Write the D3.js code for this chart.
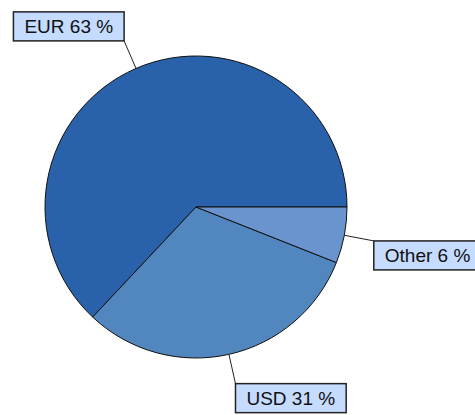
<!DOCTYPE html>
<html>
<head>
<meta charset="utf-8">
<script src="https://cdn.jsdelivr.net/npm/d3@7"></script>
<style>
  body { margin: 0; background: #fff; }
</style>
</head>
<body>
<div id="chart"></div>
<script>
// Data
const currencies = ["EUR", "USD", "Other"];
const shares = [63, 31, 6];
const colors = ["#2962ab", "#5286bf", "#6a94cd"];

const width = 475;
const height = 415;
const cx = 196, cy = 207;
const radius = 151;
const labelRadius = 181;

const svg = d3.select("#chart")
    .append("svg")
    .attr("width", width)
    .attr("height", height);

const data = currencies.map((c, i) => ({ name: c, value: shares[i], color: colors[i] }));

// Pie starts at 3 o'clock and runs counterclockwise
const pie = d3.pie()
    .sort(null)
    .value(d => d.value)
    .startAngle(Math.PI / 2)
    .endAngle(Math.PI / 2 - 2 * Math.PI);

const arc = d3.arc()
    .innerRadius(0)
    .outerRadius(radius);

const arcs = pie(data);

const g = svg.append("g")
    .attr("transform", `translate(${cx},${cy})`);

// Slices
g.selectAll("path.slice")
    .data(arcs)
    .join("path")
    .attr("class", "slice")
    .attr("d", arc)
    .attr("fill", d => d.data.color)
    .attr("stroke", "#111")
    .attr("stroke-width", 1)
    .attr("stroke-linejoin", "round");

// Point on circle for d3 angle a (clockwise from 12 o'clock)
function polar(a, r) {
    return [Math.sin(a) * r, -Math.cos(a) * r];
}

// Leader lines and label boxes
const labels = g.selectAll("g.label")
    .data(arcs)
    .join("g")
    .attr("class", "label");

labels.each(function(d) {
    const mid = (d.startAngle + d.endAngle) / 2;
    const p0 = polar(mid, radius);
    const p1 = polar(mid, labelRadius);
    const sel = d3.select(this);

    sel.append("line")
        .attr("x1", p0[0]).attr("y1", p0[1])
        .attr("x2", p1[0]).attr("y2", p1[1])
        .attr("stroke", "#222")
        .attr("stroke-width", 1);

    const text = sel.append("text")
        .style("font-family", "'Liberation Sans', Arial, sans-serif")
        .style("font-size", "19px")
        .attr("fill", "#111")
        .text(`${d.data.name} ${d.data.value} %`);

    const tw = text.node().getComputedTextLength();
    const padX = 11, boxH = 29;
    const boxW = tw + padX * 2;
    const bx = p1[0] < 0 ? p1[0] - boxW : p1[0];
    const by = p1[1] < 0 ? p1[1] - boxH : p1[1];

    sel.insert("rect", "text")
        .attr("x", bx)
        .attr("y", by)
        .attr("width", boxW)
        .attr("height", boxH)
        .attr("fill", "#c5dbff")
        .attr("stroke", "#222")
        .attr("stroke-width", 1.5);

    text.attr("x", bx + padX)
        .attr("y", by + 21);
});
</script>
</body>
</html>
